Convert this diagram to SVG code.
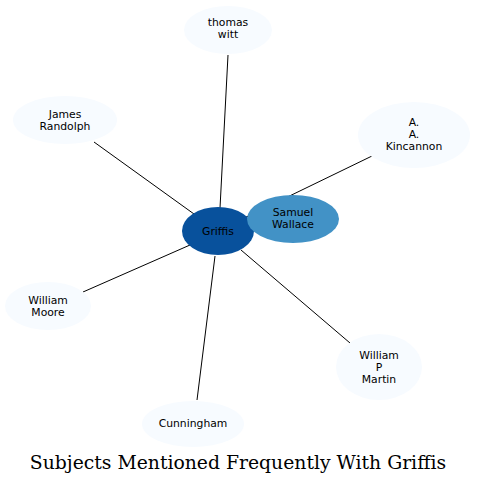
<svg xmlns="http://www.w3.org/2000/svg" width="477" height="484" viewBox="0 0 477 484">
<style>
.e{stroke:#000;stroke-width:1;fill:none}
.l{fill:#f7fbff;stroke:none}
.t{font-family:"DejaVu Sans",sans-serif;font-size:10.8px;text-anchor:middle;fill:#000}
.title{font-family:"DejaVu Serif","Liberation Serif",serif;font-size:18.8px;text-anchor:middle;fill:#000}
</style>
<rect width="477" height="484" fill="#fff"/>
<g id="edges">
<line class="e" x1="220" y1="208" x2="228" y2="55"/>
<line class="e" x1="194" y1="214" x2="94" y2="142"/>
<line class="e" x1="240" y1="220" x2="372" y2="156"/>
<line class="e" x1="190" y1="245" x2="83" y2="292"/>
<line class="e" x1="241" y1="250" x2="350" y2="343"/>
<line class="e" x1="215" y1="256" x2="197" y2="400"/>
<line class="e" x1="250" y1="225" x2="254" y2="226"/>
</g>
<g id="thomas_witt"><ellipse class="l" cx="228" cy="30" rx="44" ry="24"/><text class="t" x="228" y="26">thomas</text><text class="t" x="228" y="38">witt</text></g>
<g id="james_randolph"><ellipse class="l" cx="65" cy="120" rx="52" ry="24"/><text class="t" x="65" y="118">James</text><text class="t" x="65" y="130">Randolph</text></g>
<g id="kincannon"><ellipse class="l" cx="414" cy="135" rx="56" ry="33"/><text class="t" x="414" y="126">A.</text><text class="t" x="414" y="138">A.</text><text class="t" x="414" y="150">Kincannon</text></g>
<g id="griffis"><ellipse cx="218" cy="231" rx="36" ry="24" fill="#08519c"/><text class="t" x="218" y="235">Griffis</text></g>
<g id="samuel_wallace"><ellipse cx="293" cy="219" rx="46" ry="24" fill="#4292c6"/><text class="t" x="293" y="216">Samuel</text><text class="t" x="293" y="228">Wallace</text></g>
<g id="william_moore"><ellipse class="l" cx="48" cy="306" rx="43" ry="24"/><text class="t" x="48" y="304">William</text><text class="t" x="48" y="316">Moore</text></g>
<g id="william_p_martin"><ellipse class="l" cx="379" cy="367" rx="43" ry="33"/><text class="t" x="379" y="359">William</text><text class="t" x="379" y="371">P</text><text class="t" x="379" y="383">Martin</text></g>
<g id="cunningham"><ellipse class="l" cx="193" cy="424" rx="51" ry="23"/><text class="t" x="193" y="427">Cunningham</text></g>
<text class="title" x="238" y="469">Subjects Mentioned Frequently With Griffis</text>
</svg>
